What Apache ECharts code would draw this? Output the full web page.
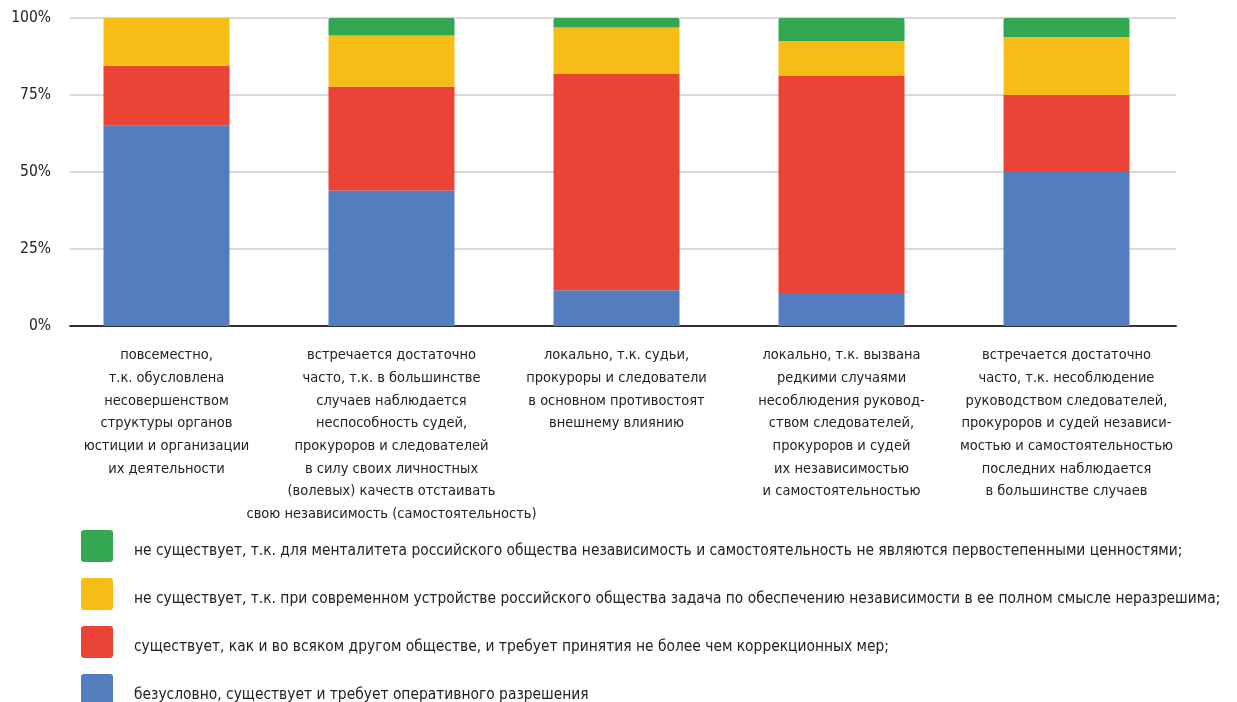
<!DOCTYPE html>
<html><head><meta charset="utf-8">
<script src="https://cdn.jsdelivr.net/npm/echarts@6/dist/echarts.min.js"></script>
<style>html,body{margin:0;padding:0;background:#fff}#c{width:1237px;height:702px}</style>
</head><body><div id="c"></div>
<script>
const categories = [
  "повсеместно,\nт.к. обусловлена\nнесовершенством\nструктуры органов\nюстиции и организации\nих деятельности",
  "встречается достаточно\nчасто, т.к. в большинстве\nслучаев наблюдается\nнеспособность судей,\nпрокуроров и следователей\nв силу своих личностных\n(волевых) качеств отстаивать\nсвою независимость (самостоятельность)",
  "локально, т.к. судьи,\nпрокуроры и следователи\nв основном противостоят\nвнешнему влиянию",
  "локально, т.к. вызвана\nредкими случаями\nнесоблюдения руковод-\nством следователей,\nпрокуроров и судей\nих независимостью\nи самостоятельностью",
  "встречается достаточно\nчасто, т.к. несоблюдение\nруководством следователей,\nпрокуроров и судей независи-\nмостью и самостоятельностью\nпоследних наблюдается\nв большинстве случаев"
];
const seriesNames = [
  "безусловно, существует и требует оперативного разрешения",
  "существует, как и во всяком другом обществе, и требует принятия не более чем коррекционных мер;",
  "не существует, т.к. при современном устройстве российского общества задача по обеспечению независимости в ее полном смысле неразрешима;",
  "не существует, т.к. для менталитета российского общества независимость и самостоятельность не являются первостепенными ценностями;"
];
const blueVals   = [65.0, 44.0, 11.6, 10.7, 50.0];
const redVals    = [19.5, 33.7, 70.4, 70.6, 25.0];
const yellowVals = [15.5, 16.6, 14.9, 11.2, 18.8];
const greenVals  = [0.0, 5.7, 3.1, 7.5, 6.2];
const yTicks = [0, 25, 50, 75, 100];

const colors = ["#527ec0", "#eb4335", "#f8bc17", "#33a853"];
const FONT = "'Liberation Sans Narrow','DejaVu Sans Condensed','Roboto',sans-serif";
const allVals = [blueVals, redVals, yellowVals, greenVals];
const ICON = 'path://M3,0 L29,0 Q32,0 32,3 L32,29 Q32,32 29,32 L3,32 Q0,32 0,29 L0,3 Q0,0 3,0 Z';

const chart = echarts.init(document.getElementById('c'), null, {renderer: 'canvas'});
chart.setOption({
  animation: false,
  textStyle: {fontFamily: FONT},
  grid: [
    {left: 54, right: 58, top: 18, bottom: 376, containLabel: false},
    {left: 70, right: 61, top: 18, bottom: 376, containLabel: false}
  ],
  legend: {
    orient: 'vertical', left: 81, top: 530, height: 300, padding: 0,
    itemWidth: 32, itemHeight: 32, itemGap: 16,
    icon: ICON,
    data: [seriesNames[3], seriesNames[2], seriesNames[1], seriesNames[0]],
    formatter: name => '{s|}\n{t|' + name + '}',
    textStyle: {
      fontFamily: FONT, fontSize: 15.4, color: '#222', padding: [0, 0, 0, 16],
      rich: {
        s: {fontSize: 4, lineHeight: 9, height: 9},
        t: {fontFamily: FONT, fontSize: 15.4, color: '#222', lineHeight: 18}
      }
    }
  },
  xAxis: [
    {
      type: 'category', data: categories, gridIndex: 0,
      axisLine: {show: false},
      axisTick: {show: false},
      axisLabel: {interval: 0, fontFamily: FONT, fontSize: 14.5, color: '#222', lineHeight: 22.7, margin: 18}
    },
    {
      type: 'value', gridIndex: 1, min: 0, max: 1,
      axisLine: {show: true, onZero: false, lineStyle: {color: '#333', width: 2}},
      axisTick: {show: false}, axisLabel: {show: false}, splitLine: {show: false}
    }
  ],
  yAxis: [
    {
      type: 'value', gridIndex: 0, min: yTicks[0], max: yTicks[yTicks.length - 1], interval: 25,
      show: false, splitLine: {show: false}
    },
    {
      type: 'value', gridIndex: 1, min: yTicks[0], max: yTicks[yTicks.length - 1], interval: 25,
      axisLine: {show: false}, axisTick: {show: false},
      splitLine: {lineStyle: {color: '#cccccc', width: 1.5}},
      axisLabel: {formatter: '{value}%', fontFamily: FONT, fontSize: 15.5, color: '#222', margin: 19}
    }
  ],
  series: allVals.map((vals, i) => ({
    name: seriesNames[i], type: 'bar', stack: 'total', data: vals,
    xAxisIndex: 0, yAxisIndex: 0,
    barWidth: '56%', z: 5,
    itemStyle: {color: colors[i], borderRadius: i === 3 ? [2, 2, 0, 0] : 0}
  }))
});
</script></body></html>
